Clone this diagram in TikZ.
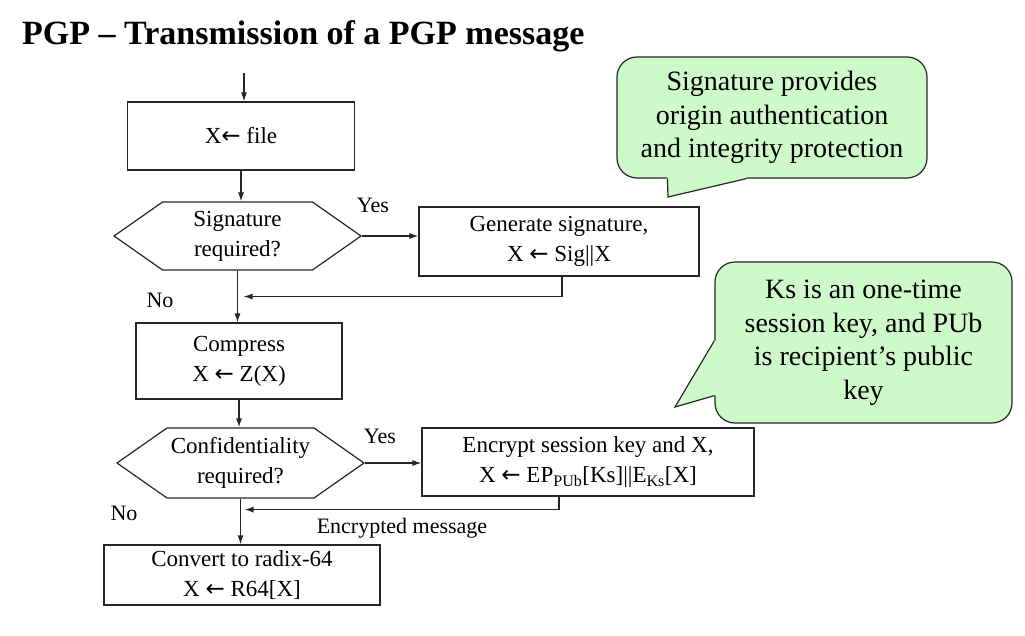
\documentclass[tikz,border=0pt]{standalone}
\usepackage{fontspec}
\setmainfont{Liberation Serif}
\newfontfamily\arrowfont{DejaVu Sans}
\usetikzlibrary{arrows.meta,shapes.symbols,calc}

\definecolor{notegreen}{RGB}{206,250,202}
\newcommand{\assignarrow}{{\arrowfont ←}}

\begin{document}
\begin{tikzpicture}[x=1pt, y=-1pt,
    box/.style={draw=black!85, line width=1.2pt, align=center, inner sep=0pt, font=\fontsize{23}{30}\selectfont},
    decision/.style={box, shape=signal, signal to=west and east, signal pointer angle=70},
    note/.style={draw=black!85, line width=1.2pt, fill=notegreen, rounded corners=20pt, align=center, inner sep=0pt, font=\fontsize{28}{33.5}\selectfont},
    lbl/.style={font=\fontsize{22}{26}\selectfont, inner sep=0pt},
    flow/.style={-{Latex[length=9pt,width=6pt]}, line width=1.2pt, draw=black!85},
    tail/.style={line width=1.2pt, draw=black!85, line join=miter}]
  \useasboundingbox (0,0) rectangle (1025,635);

  \node [anchor=base west, inner sep=0pt, font=\fontsize{34}{40}\selectfont\bfseries] (title) at (22,44) {PGP – Transmission of a PGP message};

  % flow chart
  \node [box, minimum width=227pt, minimum height=68pt] (file) at (241,136) {X\assignarrow{} file};
  \node [decision, minimum width=247pt, minimum height=68pt] (sigq) at (237.5,236) {Signature\\required?};
  \node [box, minimum width=280pt, minimum height=69pt] (sig) at (559,241.5) {Generate signature,\\X \assignarrow{} Sig\textbar\textbar X};
  \node [box, minimum width=206pt, minimum height=76pt] (comp) at (239,361) {Compress\\X \assignarrow{} Z(X)};
  \node [decision, minimum width=247pt, minimum height=70pt] (confq) at (240.5,463) {Confidentiality\\required?};
  \node [box, minimum width=332pt, minimum height=68pt] (enc) at (588,462) {Encrypt session key and X,\\X \assignarrow{} EP\textsubscript{PUb}[Ks]\textbar\textbar E\textsubscript{Ks}[X]};
  \node [box, minimum width=276pt, minimum height=60pt] (radix) at (242,575) {Convert to radix-64\\X \assignarrow{} R64[X]};

  \coordinate (in) at (244,73);
  \coordinate (join1) at ($(sigq.south)!.5!(sigq.south |- comp.north)+(6,0)$);
  \coordinate (join2) at ($(confq.south)+(4,11)$);

  \draw [flow] (in) -- (in |- file.north);
  \draw [flow] (file.south) -- (file.south |- sigq.north);
  \draw [flow] (sigq.east) -- (sigq.east -| sig.west);
  \draw [flow] (sigq.south) -- (sigq.south |- comp.north);
  \draw [flow] ([xshift=3pt]sig.south) |- (join1);
  \draw [flow] (comp.south) -- (comp.south |- confq.north);
  \draw [flow] (confq.east) -- (confq.east -| enc.west);
  \draw [flow] (confq.south) -- (confq.south |- radix.north);
  \draw [flow] ([xshift=-29pt]enc.south) |- (join2);

  \node [lbl] (yes1) at (373,205) {Yes};
  \node [lbl] (no1) at (160,300) {No};
  \node [lbl] (yes2) at (380,436) {Yes};
  \node [lbl] (no2) at (124,513) {No};
  \node [lbl] (encmsg) at (402,528) {Encrypted message};

  % callouts
  \node [note, minimum width=310pt, minimum height=121pt] (note1) at (772,117.5) {Signature provides\\origin authentication\\and integrity protection};
  \coordinate (t1a) at ($(note1.south west)+(51,0)$);
  \coordinate (t1b) at ($(note1.south west)+(130,0)$);
  \coordinate (t1tip) at (668,197);
  \fill [notegreen] ($(t1a)+(0,-4)$) -- (t1a) -- (t1tip) -- (t1b) -- ($(t1b)+(0,-4)$) -- cycle;
  \draw [tail] (t1a) -- (t1tip) -- (t1b);

  \node [note, minimum width=297pt, minimum height=161pt] (note2) at (863.5,342.5) {Ks is an one-time\\session key, and PUb\\is recipient’s public\\key};
  \coordinate (t2a) at ($(note2.south west)+(0,-83)$);
  \coordinate (t2b) at ($(note2.south west)+(0,-28)$);
  \coordinate (t2tip) at (675,407);
  \fill [notegreen] ($(t2a)+(4,0)$) -- (t2a) -- (t2tip) -- (t2b) -- ($(t2b)+(4,0)$) -- cycle;
  \draw [tail] (t2a) -- (t2tip) -- (t2b);
\end{tikzpicture}
\end{document}
